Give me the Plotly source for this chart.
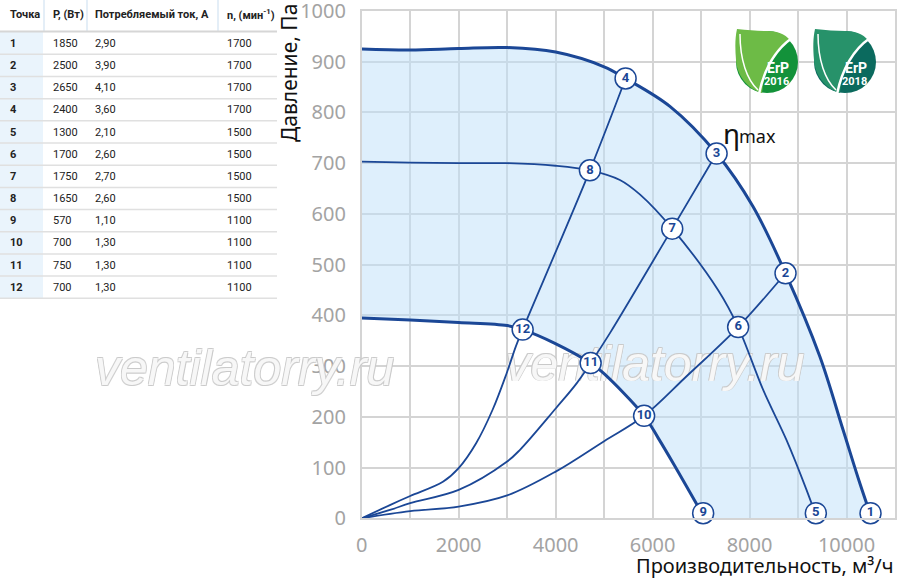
import plotly.graph_objects as go

W, H = 900, 578

# --- table data ---
point_ids = ["1", "2", "3", "4", "5", "6", "7", "8", "9", "10", "11", "12"]
power_w = ["1850", "2500", "2650", "2400", "1300", "1700", "1750", "1650", "570", "700", "750", "700"]
current_a = ["2,90", "3,90", "4,10", "3,60", "2,10", "2,60", "2,70", "2,60", "1,10", "1,30", "1,30", "1,30"]
speed_rpm = ["1700", "1700", "1700", "1700", "1500", "1500", "1500", "1500", "1100", "1100", "1100", "1100"]
table_header = ["<b>Точка</b>", "<b>P, (Вт)</b>", "<b>Потребляемый ток, А</b>", "<b>n, (мин<sup>-1</sup>)</b>"]

# --- fan curves (pressure vs flow) ---
fan_1700_x = [0, 1000, 2000, 3000, 4000, 5000, 5443, 6357, 7320, 8068, 8742, 9450, 9930, 10275, 10520]
fan_1700_y = [925, 923, 926, 928, 919, 890, 867, 812, 719, 615, 483, 319, 174, 69, 0]

fan_1500_x = [0, 1000, 2000, 3000, 4000, 4707, 5326, 5743, 6405, 7350, 7765, 8281, 8763, 9175, 9390]
fan_1500_y = [703, 701, 700, 700, 695, 686, 667, 638, 571, 450, 377, 253, 154, 56, 0]

fan_1100_x = [0, 1000, 2000, 3000, 3320, 3985, 4722, 4976, 5825, 6117, 6440, 7075]
fan_1100_y = [395, 391, 386, 380, 372, 345, 306, 287, 202, 158, 106, 0]

# --- system curves ---
sys_a_x = [0, 581, 1000, 1675, 2000, 2360, 2700, 2990, 3180, 3320, 4707, 5443]
sys_a_y = [0, 26, 44, 72, 99, 148, 214, 286, 339, 372, 686, 867]

sys_b_x = [0, 600, 1000, 2000, 3000, 3265, 4006, 4433, 4722, 5120, 6405, 7320]
sys_b_y = [0, 17, 30, 56, 112, 135, 217, 266, 306, 365, 571, 719]

sys_c_x = [0, 1000, 2000, 3000, 4000, 5000, 5825, 6701, 7765, 8742]
sys_c_y = [0, 14, 23, 45, 92, 152, 202, 280, 377, 483]

# --- numbered working points ---
pt_labels = ["1", "2", "3", "4", "5", "6", "7", "8", "9", "10", "11", "12"]
pt_x = [10495, 8742, 7320, 5443, 9367, 7765, 6405, 4707, 7043, 5825, 4722, 3320]
pt_y = [10, 483, 719, 867, 10, 377, 571, 686, 10, 202, 306, 372]

x_ticks = [0, 2000, 4000, 6000, 8000, 10000]
y_ticks = [0, 100, 200, 300, 400, 500, 600, 700, 800, 900, 1000]

BLUE = "#1b4796"
GRID = "#d4d4d4"
WM_FONT = dict(family="Liberation Sans", size=50, style="italic", color="rgba(255,255,255,0.85)",
               shadow="-0.8px -0.8px 0 #c9c9c9, 0.8px -0.8px 0 #c9c9c9, -0.8px 0.8px 0 #c9c9c9, 0.8px 0.8px 0 #c9c9c9")

# plot area in window pixels
X0_PX, X1_PX, Y0_PX, Y1_PX = 361.7, 895, 518.3, 11
X_MAX, Y_MAX = 11000, 1000


def px(x):
    return x / W


def py(y):
    return 1 - y / H


def pt(x, y):
    return f"{px(x):.5f},{py(y):.5f}"


def to_data(x, y):
    # window pixel -> axis units (for the decorative watermark)
    return ((x - X0_PX) / (X1_PX - X0_PX) * X_MAX, (Y0_PX - y) / (Y0_PX - Y1_PX) * Y_MAX)


def note(x, y, text, size, color="#111", family="Noto Sans", xanchor="center", **kw):
    return dict(xref="paper", yref="paper", x=px(x), y=py(y), text=text, showarrow=False,
                xanchor=xanchor, yanchor="middle", font=dict(family=family, size=size, color=color), **kw)


fig = go.Figure()

# fill between the 1100 and 1700 curves
fig.add_trace(go.Scatter(x=fan_1100_x, y=fan_1100_y, mode="lines",
                         line=dict(width=0, shape="spline"), hoverinfo="skip", showlegend=False))
fig.add_trace(go.Scatter(x=fan_1700_x, y=fan_1700_y, mode="lines", fill="tonexty",
                         fillcolor="rgba(190,224,250,0.5)",
                         line=dict(width=0, shape="spline"), hoverinfo="skip", showlegend=False))

# watermark inside the plot, under the curves
wx, wy = to_data(655, 368)
fig.add_trace(go.Scatter(
    x=[wx], y=[wy], mode="text", text=["ventilatorry.ru"], textposition="middle center",
    cliponaxis=False, hoverinfo="skip", showlegend=False, textfont=WM_FONT,
))

for xs, ys, w in [(sys_a_x, sys_a_y, 1.8), (sys_b_x, sys_b_y, 1.8), (sys_c_x, sys_c_y, 1.8),
                  (fan_1500_x, fan_1500_y, 1.8), (fan_1100_x, fan_1100_y, 3), (fan_1700_x, fan_1700_y, 3)]:
    fig.add_trace(go.Scatter(x=xs, y=ys, mode="lines",
                             line=dict(color=BLUE, width=w, shape="spline"),
                             hoverinfo="skip", showlegend=False))

fig.add_trace(go.Scatter(
    x=pt_x, y=pt_y, mode="markers+text", text=pt_labels, textposition="middle center",
    textfont=dict(family="Roboto", size=13, color=BLUE, weight="bold"),
    marker=dict(size=21, color="white", line=dict(color=BLUE, width=1.5)),
    cliponaxis=False, showlegend=False,
))

shapes = []
annotations = []

# table
shapes.append(dict(type="rect", xref="paper", yref="paper", x0=px(0), x1=px(43), y0=py(298), y1=py(32),
                   fillcolor="#eaf4fc", line=dict(width=0), layer="below"))
for sx in [44, 87, 218]:
    shapes.append(dict(type="line", xref="paper", yref="paper", x0=px(sx), x1=px(sx), y0=py(0), y1=py(31),
                       line=dict(color="#e4eef7", width=2)))
shapes.append(dict(type="line", xref="paper", yref="paper", x0=px(0), x1=px(277), y0=py(31.5), y1=py(31.5),
                   line=dict(color="#d6d6d6", width=2)))
for k in range(12):
    yy = 54.3 + 22.18 * k
    shapes.append(dict(type="line", xref="paper", yref="paper", x0=px(0), x1=px(277), y0=py(yy), y1=py(yy),
                       line=dict(color="#e0e0e0", width=1.5)))

col_x = [8, 51, 93, 225]
for c, txt in enumerate(table_header):
    annotations.append(note(col_x[c], 15, txt, 11, "#222", "Roboto", xanchor="left"))
for r in range(len(point_ids)):
    yy = 43.3 + 22.18 * r
    for c, col in enumerate([point_ids, power_w, current_a, speed_rpm]):
        txt = f"<b>{col[r]}</b>" if c == 0 else col[r]
        annotations.append(note(col_x[c], yy, txt, 11, "#222", "Roboto", xanchor="left"))

# watermark left of the plot
annotations.append(dict(xref="paper", yref="paper", x=px(245), y=py(368), text="ventilatorry.ru",
                        showarrow=False, xanchor="center", yanchor="middle", font=WM_FONT))

# ErP logos
for ox, dark, light, year in [(0, "#13923a", "#6dbb46", "2016"), (78, "#0b6a5e", "#27926a", "2018")]:
    cx, cy, r = 767 + ox, 62, 31
    shapes.append(dict(type="circle", xref="paper", yref="paper", x0=px(cx - r), x1=px(cx + r),
                       y0=py(cy + r), y1=py(cy - r), fillcolor=dark, line=dict(width=0)))
    leaf = (f"M {pt(737 + ox, 29)} C {pt(748 + ox, 30)} {pt(758 + ox, 31)} {pt(767 + ox, 31)} "
            f"C {pt(777 + ox, 31)} {pt(785 + ox, 34)} {pt(790 + ox, 40)} "
            f"C {pt(772 + ox, 52)} {pt(764 + ox, 72)} {pt(762 + ox, 93)} "
            f"C {pt(748 + ox, 89)} {pt(737 + ox, 76)} {pt(736 + ox, 60)} "
            f"C {pt(735 + ox, 48)} {pt(735 + ox, 38)} {pt(737 + ox, 29)} Z")
    shapes.append(dict(type="path", xref="paper", yref="paper", path=leaf, fillcolor=light, line=dict(width=0)))
    vein = f"M {pt(759 + ox, 94)} C {pt(764 + ox, 70)} {pt(775 + ox, 50)} {pt(792 + ox, 38)}"
    shapes.append(dict(type="path", xref="paper", yref="paper", path=vein, line=dict(color="white", width=2.5)))
    inner = f"M {pt(740 + ox, 34)} C {pt(740 + ox, 60)} {pt(747 + ox, 80)} {pt(758 + ox, 90)}"
    shapes.append(dict(type="path", xref="paper", yref="paper", path=inner, line=dict(color="white", width=1.5)))
    annotations.append(note(cx + 11, 68, "<b>ErP</b>", 14, "white", "Roboto"))
    annotations.append(note(cx + 9, 81, f"<b>{year}</b>", 11, "white", "Roboto"))

# eta max
annotations.append(note(731, 133, "η", 28))
annotations.append(note(757, 136, "max", 18))

# axis titles
annotations.append(note(289, 73, "Давление, Па", 21, textangle=-90))
annotations.append(note(896, 565, "Производительность, м³/ч", 20, xanchor="right"))

fig.update_xaxes(
    domain=[X0_PX / W, X1_PX / W], range=[0, X_MAX], tickvals=x_ticks, tickformat="d",
    showgrid=True, gridcolor=GRID, gridwidth=1.5,
    minor=dict(dtick=1000, tick0=0, showgrid=True, gridcolor=GRID, gridwidth=1.5),
    showline=True, mirror=True, linecolor=GRID, linewidth=1.5, zeroline=False, automargin=False,
    tickfont=dict(family="Noto Sans", size=20, color="#a3a3a3"), ticklabelstandoff=8,
    ticklabeloverflow="allow",
)
fig.update_yaxes(
    domain=[(H - Y0_PX) / H, (H - Y1_PX) / H], range=[0, Y_MAX], tickvals=y_ticks,
    showgrid=True, gridcolor=GRID, gridwidth=1.5,
    showline=True, mirror=True, linecolor=GRID, linewidth=1.5, zeroline=False, automargin=False,
    tickfont=dict(family="Noto Sans", size=20, color="#a3a3a3"), ticklabelstandoff=10,
    ticklabeloverflow="allow",
)

fig.update_layout(
    width=W, height=H, margin=dict(l=0, r=0, t=0, b=0, autoexpand=False),
    plot_bgcolor="white", paper_bgcolor="white",
    shapes=shapes, annotations=annotations, showlegend=False,
)

# the page adds an 8px body margin by default; drop it so the figure sits at the window corner
fig.write_html("out.html", config={"displayModeBar": False},
               post_script="document.body.style.margin = '0';")
